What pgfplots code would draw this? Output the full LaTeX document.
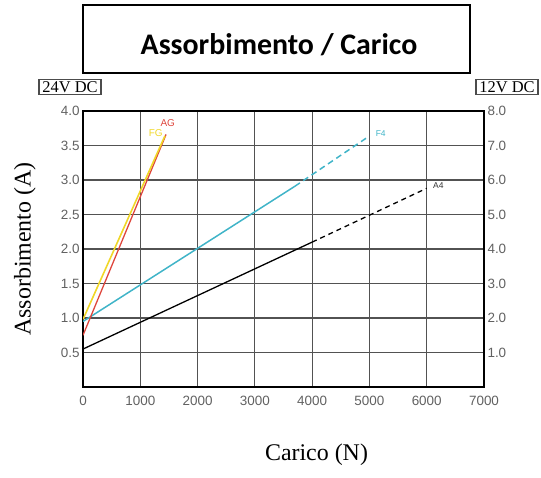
\documentclass[border=0pt]{standalone}
\usepackage{fontspec}
\setmainfont{Liberation Serif}
\setsansfont{Liberation Sans}
\newfontfamily\carlito{Carlito}
\usepackage{pgfplots}
\pgfplotsset{compat=1.18}
\definecolor{cF}{RGB}{64,180,200}
\definecolor{cA}{RGB}{222,70,60}
\definecolor{cY}{RGB}{240,215,40}
\begin{document}
\begin{tikzpicture}
\pgfplotsset{
  every axis/.append style={
    scale only axis, width=401bp, height=276bp,
    /pgf/number format/assume math mode=true,
    tick label style={font=\sffamily\fontsize{13.5}{13.5}\selectfont, text=black!62},
    tick style={draw=none},
  }
}
\begin{axis}[
  name=ax,
  xmin=0, xmax=7000, ymin=0, ymax=4,
  xtick={0,1000,...,7000},
  ytick={0.5,1,...,4},
  xticklabel style={/pgf/number format/1000 sep={}, yshift=-6bp},
  yticklabel style={/pgf/number format/.cd, fixed, fixed zerofill, precision=1},
  grid=major,
  major grid style={draw=black!68, line width=1.2pt},
  axis line style={line width=1.6pt},
]
% A4 (black)
\addplot[black, line width=1.3pt] coordinates {(0,0.55) (4000,2.10)};
\addplot[black, line width=1.3pt, dash pattern=on 5pt off 4pt] coordinates {(4000,2.10) (6000,2.88)};
% F4 (cyan)
\addplot[cF, line width=1.5pt] coordinates {(0,0.95) (3700,2.91)};
\addplot[cF, line width=1.5pt, dash pattern=on 6pt off 4pt] coordinates {(3700,2.91) (4950,3.61)};
% AG (red)
\addplot[cA, line width=1.3pt] coordinates {(0,0.75) (1450,3.66)};
% FG (yellow)
\addplot[cY, line width=1.6pt] coordinates {(0,0.98) (1430,3.64)};
\node[font=\sffamily\fontsize{8.5}{8.5}\selectfont, text=black!80, anchor=west] at (axis cs:6050,2.92) {A4};
\node[font=\sffamily\fontsize{8.5}{8.5}\selectfont, text=cF, anchor=west] at (axis cs:5050,3.67) {F4};
\node[font=\sffamily\fontsize{10}{10}\selectfont, text=cA] at (axis cs:1480,3.83) {AG};
\node[font=\sffamily\fontsize{10}{10}\selectfont, text=cY] at (axis cs:1270,3.68) {FG};
\end{axis}
\begin{axis}[
  xmin=0, xmax=7000, ymin=0, ymax=8,
  axis x line=none,
  axis y line*=right,
  axis line style={draw=none},
  ytick={1,...,8},
  yticklabel style={/pgf/number format/.cd, fixed, fixed zerofill, precision=1},
]
\addplot[draw=none] coordinates {(0,0) (7000,8)};
\end{axis}
% title box
\draw[line width=1.5pt] ([shift={(0bp,38bp)}]ax.north west) rectangle ([shift={(387bp,106bp)}]ax.north west);
\node[anchor=base, font=\carlito\bfseries\fontsize{30}{36}\selectfont] at ([shift={(196bp,56bp)}]ax.north west) {Assorbimento / Carico};
% voltage boxes
\node[draw=black!70, line width=1.4pt, inner xsep=3.5bp, inner ysep=2bp, font=\fontsize{16.5}{16.5}\selectfont] at ([shift={(-13bp,24bp)}]ax.north west) {24V DC};
\node[draw=black!70, line width=1.4pt, inner xsep=3.5bp, inner ysep=2bp, font=\fontsize{16.5}{16.5}\selectfont] at ([shift={(23bp,24bp)}]ax.north east) {12V DC};
% axis labels
\node[rotate=90, font=\fontsize{24}{24}\selectfont] at ([shift={(-58bp,0bp)}]ax.west) {Assorbimento (A)};
\node[font=\fontsize{24}{24}\selectfont] at ([shift={(33bp,-68bp)}]ax.south) {Carico (N)};
\pgfresetboundingbox
\path ([shift={(-83bp,-90bp)}]ax.south west) rectangle ([shift={(57bp,111bp)}]ax.north east);
\end{tikzpicture}
\end{document}
